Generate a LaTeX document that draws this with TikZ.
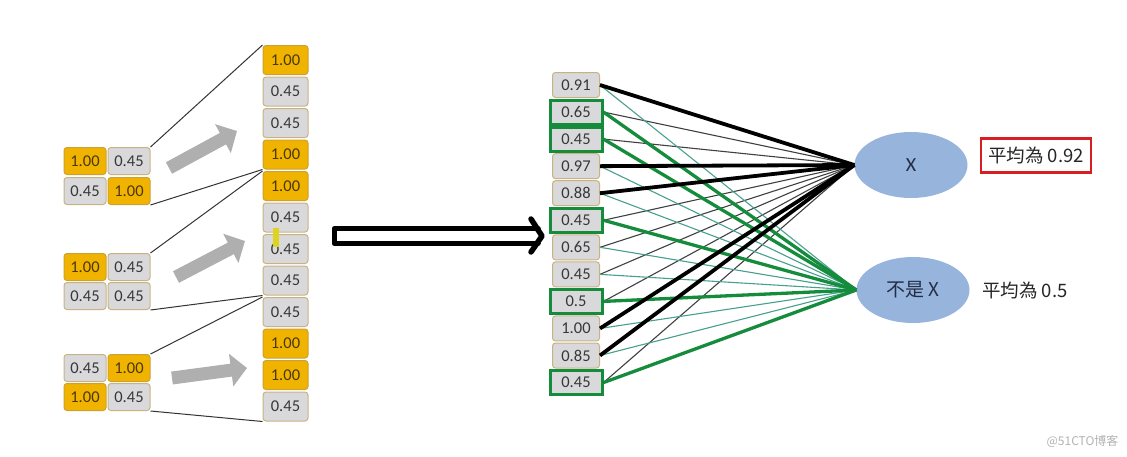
\documentclass[tikz,border=0pt]{standalone}
\usepackage{fontspec}
\setmainfont{Carlito}
\newfontfamily\cjk{Noto Sans CJK TC}
\usetikzlibrary{arrows.meta,shapes.geometric}
\definecolor{gold}{RGB}{240,180,0}
\definecolor{goldline}{RGB}{205,160,50}
\definecolor{cellgray}{RGB}{217,217,220}
\definecolor{tanline}{RGB}{200,178,130}
\definecolor{gtext}{RGB}{55,55,55}
\definecolor{otext}{RGB}{75,55,10}
\definecolor{boxgreen}{RGB}{20,140,60}
\definecolor{tealline}{RGB}{70,160,140}
\definecolor{ellblue}{RGB}{150,180,220}
\definecolor{navy}{RGB}{35,45,70}
\definecolor{redbox}{RGB}{215,30,35}
\definecolor{arrowgray}{RGB}{175,175,175}
\begin{document}
\begin{tikzpicture}[x=1pt,y=-1pt,
 cell/.style={draw, rounded corners=3pt, line width=1pt, minimum width=45pt, minimum height=29pt, inner sep=0pt, font=\fontsize{16.5}{18}\selectfont},
 ocell/.style={cell, fill=gold, draw=goldline, text=otext},
 gcell/.style={cell, fill=cellgray, draw=tanline, text=gtext},
 small/.style={minimum width=42pt, minimum height=27pt},
 mcell/.style={gcell, minimum width=47pt, minimum height=25pt, font=\fontsize{16.5}{18}\selectfont},
 gbox/.style={mcell, draw=boxgreen, line width=3pt, rounded corners=0pt, minimum width=52pt, minimum height=24pt},
 link/.style={line width=1pt, draw=black!80},
 garrow/.style={line width=13pt, draw=arrowgray, -{Triangle[length=16pt,width=32pt]}},
 thk/.style={line width=3.8pt, black},
 thn/.style={line width=1.1pt, black!75},
 thkG/.style={line width=3.3pt, boxgreen},
 thnT/.style={line width=1.1pt, tealline},
 ell/.style={ellipse, fill=ellblue, minimum width=113pt, minimum height=66pt, inner sep=0pt, text=navy, font=\fontsize{20}{22}\selectfont},
 avg/.style={font=\cjk\fontsize{18.5}{20}\selectfont, text=black!85, inner sep=0pt}
]
\useasboundingbox (0,0) rectangle (1127,456);
% left column
\foreach \i/\v/\s in {1/1.00/ocell,2/0.45/gcell,3/0.45/gcell,4/1.00/ocell,5/1.00/ocell,6/0.45/gcell,7/0.45/gcell,8/0.45/gcell,9/0.45/gcell,10/1.00/ocell,11/1.00/ocell,12/0.45/gcell}
  \node[\s] (c\i) at (285.5,{60+31.5*(\i-1)}) {\v};
\fill[yellow!85!black] (273,228) rectangle (279,247);
% groups
\node[ocell,small] (a11) at (85,161) {1.00};
\node[gcell,small] (a12) at (129,161) {0.45};
\node[gcell,small] (a21) at (85,191) {0.45};
\node[ocell,small] (a22) at (129,191) {1.00};
\node[ocell,small] (b11) at (85,267) {1.00};
\node[gcell,small] (b12) at (129,267) {0.45};
\node[gcell,small] (b21) at (85,296) {0.45};
\node[gcell,small] (b22) at (129,296) {0.45};
\node[gcell,small] (d11) at (85,368) {0.45};
\node[ocell,small] (d12) at (129,368) {1.00};
\node[ocell,small] (d21) at (85,397) {1.00};
\node[gcell,small] (d22) at (129,397) {0.45};
% links
\draw[link] (a12.north east) -- (c1.north west);
\draw[link] (a22.south east) -- (c4.south west);
\draw[link] (b12.north east) -- (c5.north west);
\draw[link] (b22.south east) -- (c8.south west);
\draw[link] (d12.north east) -- (c9.north west);
\draw[link] (d22.south east) -- (c12.south west);
% gray arrows
\coordinate (p1) at (169,168); \coordinate (q1) at (237,131);
\coordinate (p2) at (176,277); \coordinate (q2) at (245,241);
\coordinate (p3) at (172,378); \coordinate (q3) at (247,368);
\draw[garrow] (p1) -- (q1);
\draw[garrow] (p2) -- (q2);
\draw[garrow] (p3) -- (q3);
% big open arrow
\draw[line width=5.5pt, line join=round, line cap=round] (538,228.5) -- (334.5,228.5) -- (334.5,243.5) -- (538,243.5);
\draw[line width=5.5pt, line join=round, line cap=round] (531,219) -- (542,236) -- (531,252);
% middle column
\foreach \i/\v/\s in {1/0.91/mcell,2/0.65/gbox,3/0.45/gbox,4/0.97/mcell,5/0.88/mcell,6/0.45/gbox,7/0.65/mcell,8/0.45/mcell,9/0.5/gbox,10/1.00/mcell,11/0.85/mcell,12/0.45/gbox}
  \node[\s] (m\i) at (576,{85+27.05*(\i-1)}) {\v};
% ellipses
\node[ell] (X) at (911,165) {X};
\node[ell] (NX) at (913,290) {\cjk\fontsize{19}{21}\selectfont 不是 X};
\coordinate (tx) at (X.west);
\coordinate (tn) at (NX.west);
% thin lines
\foreach \i in {2,3,6,7,8,9,12} \draw[thn] (m\i.east) -- (tx);
\foreach \i in {1,4,5,7,8,10,11} \draw[thnT] (m\i.east) -- (tn);
\foreach \i in {2,3,6,9,12} \draw[thkG] (m\i.east) -- (tn);
\foreach \i in {1,4,5,10,11} \draw[thk] (m\i.east) -- (tx);
% averages
\node[avg, draw=redbox, line width=2.6pt, minimum width=110pt, minimum height=34pt] (av1) at (1036,155.5) {平均為 0.92};
\node[avg, anchor=west] (av2) at (982,290) {平均為 0.5};
\node[font=\cjk\fontsize{12}{14}\selectfont, text=black!30, anchor=east] (wm) at (1122,441) {@51CTO博客};
\end{tikzpicture}
\end{document}
